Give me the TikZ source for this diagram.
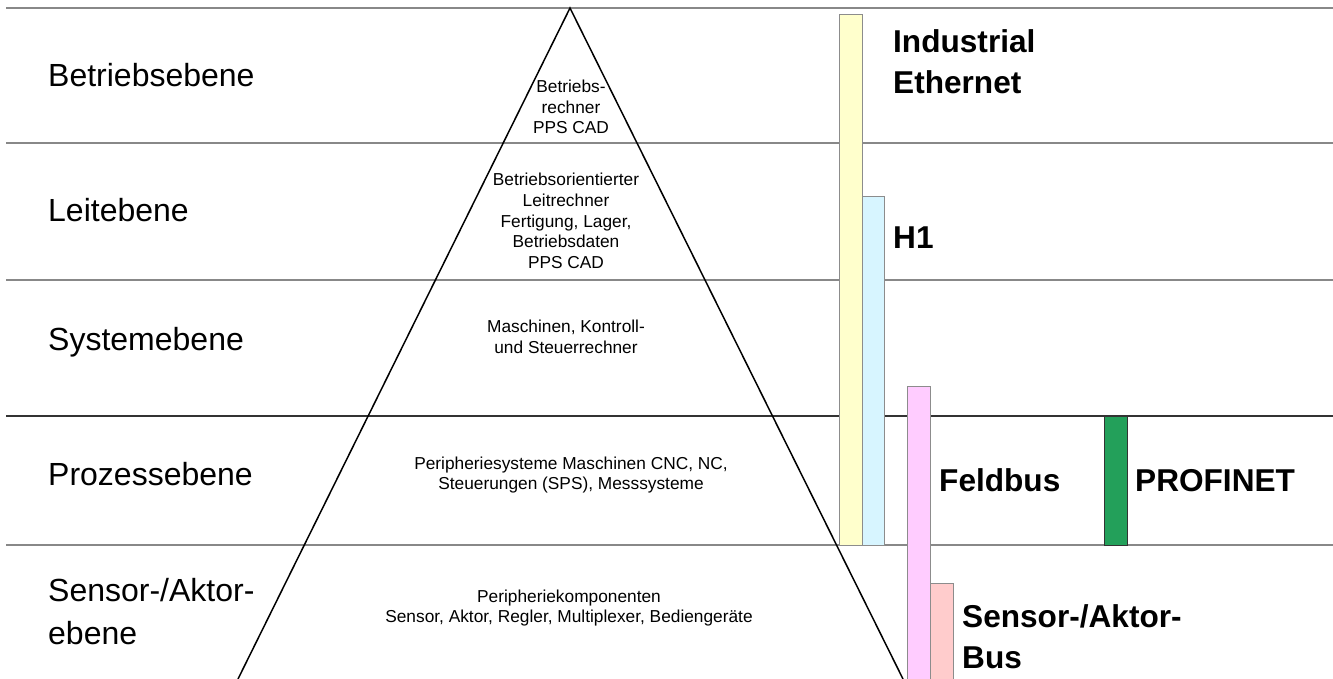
\documentclass[tikz,border=0pt]{standalone}
\usepackage{fontspec}
\setmainfont{Liberation Sans}
\definecolor{gridgray}{RGB}{136,136,136}
\definecolor{griddark}{RGB}{51,51,51}
\definecolor{baryellow}{RGB}{255,255,204}
\definecolor{barcyan}{RGB}{215,245,255}
\definecolor{barpink}{RGB}{255,204,255}
\definecolor{barsalmon}{RGB}{255,204,204}
\definecolor{bargreen}{RGB}{35,160,90}
\definecolor{barborder}{RGB}{140,140,140}
\tikzset{
  level/.style={draw=gridgray, line width=1.6pt},
  leveldark/.style={draw=griddark, line width=1.6pt},
  lvllabel/.style={anchor=west, inner sep=0pt, font=\fontsize{32}{43}\selectfont, align=left},
  midtext/.style={inner sep=0pt, align=center, font=\fontsize{17.3}{20.7}\selectfont},
  buslabel/.style={anchor=base west, inner sep=0pt, align=left, font=\fontsize{31.6}{41}\selectfont\bfseries},
  bar/.style={draw=barborder, line width=1pt},
  tri/.style={draw=black, line width=1.5pt}
}
\begin{document}
\begin{tikzpicture}[x=1pt,y=-1pt]
\useasboundingbox (0,0) rectangle (1333,679);
% level lines
\coordinate (l1a) at (6,8);   \coordinate (l1b) at (1333,8);
\coordinate (l2a) at (6,143); \coordinate (l2b) at (1333,143);
\coordinate (l3a) at (6,280); \coordinate (l3b) at (1333,280);
\coordinate (l4a) at (6,416); \coordinate (l4b) at (1333,416);
\coordinate (l5a) at (6,545); \coordinate (l5b) at (1333,545);
\draw[level] (l1a) -- (l1b);
\draw[level] (l2a) -- (l2b);
\draw[level] (l3a) -- (l3b);
\draw[leveldark] (l4a) -- (l4b);
\draw[level] (l5a) -- (l5b);
% bars
\draw[bar, fill=baryellow] (839,15) rectangle (862,545);
\draw[bar, fill=barcyan] (862,197) rectangle (884,545);
\draw[bar, fill=barpink] (907,386) rectangle (930,679);
\draw[bar, fill=barsalmon] (930,583) rectangle (953,679);
\draw[bar, draw=griddark, fill=bargreen] (1104,416) rectangle (1127,545);
% pyramid
\coordinate (apex) at (570,8);
\coordinate (bl) at (238,679);
\coordinate (br) at (903,679);
\draw[tri] (bl) -- (apex) -- (br);
% level labels
\node[lvllabel] (betrieb) at (48,75) {Betriebsebene};
\node[lvllabel] (leit) at (48,210) {Leitebene};
\node[lvllabel] (system) at (48,342) {Systemebene};
\node[lvllabel] (prozess) at (48,474) {Prozessebene};
\node[lvllabel] (sensor) at (48,612) {Sensor-/Aktor-\\ebene};
% pyramid texts
\node[midtext] (t1) at (571,107) {Betriebs-\\rechner\\PPS CAD};
\node[midtext] (t2) at (566,221) {Betriebsorientierter\\Leitrechner\\Fertigung, Lager,\\Betriebsdaten\\PPS CAD};
\node[midtext] (t3) at (566,337) {Maschinen, Kontroll-\\und Steuerrechner};
\node[midtext] (t4) at (571,475) {Peripheriesysteme Maschinen CNC, NC,\\Steuerungen (SPS), Messsysteme};
\node[midtext] (t5) at (569,608) {Peripheriekomponenten\\Sensor, Aktor, Regler, Multiplexer, Bediengeräte};
% bus labels (base = last line's baseline)
\node[buslabel] (ie) at (893,94) {Industrial\\Ethernet};
\node[buslabel] (h1) at (893,248) {H1};
\node[buslabel] (fb) at (939,491) {Feldbus};
\node[buslabel] (pn) at (1135,491) {PROFINET};
\node[buslabel] (sab) at (962,668) {Sensor-/Aktor-\\Bus};
\end{tikzpicture}
\end{document}
